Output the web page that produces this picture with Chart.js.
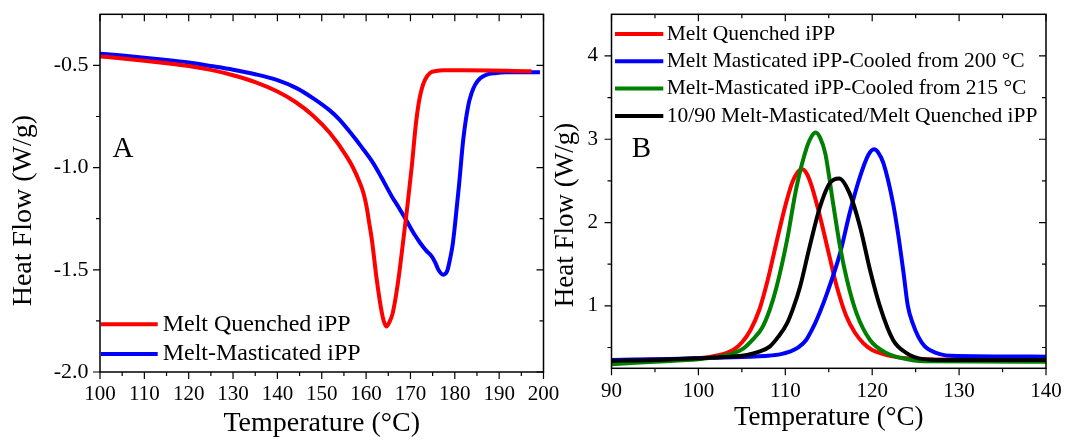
<!DOCTYPE html>
<html>
<head>
<meta charset="utf-8">
<script src="https://cdn.jsdelivr.net/npm/chart.js@4"></script>
<style>
  body { margin: 0; background: #fff; }
  #wrap { position: relative; width: 1065px; height: 440px; }
  .box { position: absolute; top: 0; height: 440px; }
</style>
</head>
<body>
<div id="wrap">
  <div class="box" style="left:0; width:570px;"><canvas id="chartA"></canvas></div>
  <div class="box" style="left:540px; width:525px;"><canvas id="chartB"></canvas></div>
</div>
<script>
// ---- Panel A: melting (heat flow, W/g) ----
const quenchT = [100, 105, 110, 115, 120, 125, 130, 135, 140, 144, 148, 151.8, 155.6, 157.1, 158.6, 159.4, 160.1, 160.7, 161.3, 162.4, 163.5, 164.0, 164.6, 165.2, 166.0, 167.2, 168.4, 169.3, 170.3, 171.25, 171.9, 172.5, 173.3, 174.4, 175.8, 177.4, 182, 188, 193, 197.3];
const quenchHF = [-0.456, -0.466, -0.477, -0.489, -0.503, -0.522, -0.548, -0.582, -0.628, -0.678, -0.745, -0.830, -0.945, -1.002, -1.075, -1.124, -1.190, -1.271, -1.353, -1.548, -1.705, -1.752, -1.777, -1.758, -1.712, -1.560, -1.353, -1.190, -0.994, -0.782, -0.680, -0.619, -0.570, -0.537, -0.527, -0.524, -0.524, -0.525, -0.527, -0.529];

const mastT = [100, 105, 110, 115, 120, 125, 130, 135, 140, 144.2, 148, 151.8, 154, 156.5, 159, 161.6, 163.5, 165.8, 167.5, 169.2, 171, 172.2, 173.5, 174.8, 175.6, 176.3, 177.4, 178.3, 178.9, 179.5, 180.0, 181.0, 181.9, 183.0, 183.8, 184.6, 185.8, 187.2, 189, 191.7, 195, 199.2];
const mastHF = [-0.443, -0.452, -0.462, -0.473, -0.486, -0.503, -0.521, -0.543, -0.572, -0.610, -0.660, -0.720, -0.765, -0.830, -0.900, -0.978, -1.050, -1.141, -1.200, -1.263, -1.330, -1.369, -1.405, -1.434, -1.465, -1.500, -1.524, -1.505, -1.450, -1.380, -1.288, -1.075, -0.864, -0.700, -0.635, -0.594, -0.562, -0.545, -0.538, -0.534, -0.534, -0.534];

const xTicksA = [100, 110, 120, 130, 140, 150, 160, 170, 180, 190, 200];
const yTicksA = [-2.0, -1.5, -1.0, -0.5];

// ---- Panel B: crystallization ----
const bQuenchT = [90, 95, 100, 102, 104, 105, 106, 107, 108, 109, 110, 110.8, 111.4, 111.9, 112.4, 113.0, 114.0, 115.0, 115.9, 117.0, 118.0, 119.0, 120.0, 121.0, 122.5, 124, 127, 140];
const bQuenchHF = [0.34, 0.355, 0.37, 0.40, 0.47, 0.56, 0.71, 0.95, 1.32, 1.77, 2.20, 2.48, 2.60, 2.64, 2.60, 2.45, 2.07, 1.63, 1.24, 0.88, 0.68, 0.55, 0.47, 0.43, 0.39, 0.37, 0.355, 0.35];

const b200T = [90, 95, 100, 106, 108, 109.5, 110.5, 111.5, 112.4, 113.2, 114.0, 114.8, 116.3, 117.4, 118.6, 119.55, 120.2, 120.7, 121.3, 122.4, 123.0, 123.6, 124.1, 124.7, 125.3, 126.0, 126.8, 127.8, 129, 140];
const b200HF = [0.35, 0.36, 0.37, 0.39, 0.40, 0.42, 0.45, 0.50, 0.59, 0.74, 0.93, 1.15, 1.63, 2.11, 2.55, 2.81, 2.88, 2.84, 2.71, 2.23, 1.85, 1.40, 1.00, 0.78, 0.63, 0.52, 0.46, 0.42, 0.40, 0.39];

const b215T = [90, 95, 100, 102.1, 104, 105.2, 106.3, 107.3, 108.2, 109.0, 110.2, 111.3, 112.5, 113.0, 113.5, 114.0, 114.6, 115.5, 116.3, 117.1, 118.2, 119.75, 121.7, 123.5, 126, 140];
const b215HF = [0.30, 0.33, 0.36, 0.385, 0.43, 0.49, 0.60, 0.73, 0.95, 1.23, 1.79, 2.43, 2.91, 3.03, 3.08, 3.02, 2.83, 2.23, 1.71, 1.31, 0.91, 0.59, 0.43, 0.37, 0.335, 0.33];

const bBlendT = [90, 95, 100, 103, 105.6, 107, 108.2, 109.2, 110.2, 110.9, 111.7, 112.8, 114.0, 115.1, 116.2, 117.4, 118.6, 119.75, 120.9, 122.4, 124.0, 125.9, 128, 140];
const bBlendHF = [0.34, 0.35, 0.37, 0.385, 0.41, 0.45, 0.51, 0.63, 0.79, 0.97, 1.23, 1.71, 2.19, 2.47, 2.53, 2.35, 1.95, 1.43, 0.99, 0.59, 0.43, 0.36, 0.35, 0.35];

const xTicksB = [90, 100, 110, 120, 130, 140];
const yTicksB = [1, 2, 3, 4];

Chart.defaults.font.family = "'Liberation Serif', 'Times New Roman', serif";
Chart.defaults.color = '#000';

function pts(xs, ys) {
  return xs.map((x, i) => ({ x: x, y: ys[i] }));
}

// frame box, in/out tick marks with minor ticks, panel letter
const frameTicks = {
  id: 'frameTicks',
  afterDraw(chart, args, opts) {
    const ctx = chart.ctx;
    const a = chart.chartArea;
    const sx = chart.scales.x, sy = chart.scales.y;
    ctx.save();
    ctx.strokeStyle = '#000';
    ctx.lineWidth = 1.2;

    const marks = (scale) => {
      const vals = scale.ticks.map(t => t.value);
      const step = vals[1] - vals[0];
      const out = vals.map(v => ({ v: v, len: 7 }));
      for (let v = vals[0] - step / 2; v <= scale.max + 1e-9; v += step) {
        if (v > scale.min + 1e-9 && v < scale.max - 1e-9) out.push({ v: v, len: 4 });
      }
      return out;
    };

    ctx.beginPath();
    marks(sx).forEach(m => {
      const p = sx.getPixelForValue(m.v);
      ctx.moveTo(p, a.bottom); ctx.lineTo(p, a.bottom + m.len);
      ctx.moveTo(p, a.top); ctx.lineTo(p, a.top + m.len);
    });
    marks(sy).forEach(m => {
      const p = sy.getPixelForValue(m.v);
      ctx.moveTo(a.left - m.len, p); ctx.lineTo(a.left, p);
      ctx.moveTo(a.right - m.len, p); ctx.lineTo(a.right, p);
    });
    ctx.stroke();

    ctx.lineWidth = 1.5;
    ctx.strokeRect(a.left, a.top, a.right - a.left, a.bottom - a.top);

    ctx.fillStyle = '#000';
    ctx.font = "29px 'Liberation Serif'";
    ctx.textBaseline = 'alphabetic';
    ctx.fillText(opts.letter, opts.lx, opts.ly);
    ctx.restore();
  }
};

// legend: short thick line + label, stacked
const lineLegend = {
  id: 'lineLegend',
  afterDraw(chart, args, o) {
    const ctx = chart.ctx;
    ctx.save();
    ctx.font = o.size + "px 'Liberation Serif'";
    ctx.textBaseline = 'middle';
    chart.data.datasets.forEach((ds, i) => {
      const y = o.y + i * o.gap;
      ctx.strokeStyle = ds.borderColor;
      ctx.lineWidth = 4;
      ctx.beginPath();
      ctx.moveTo(o.x, y);
      ctx.lineTo(o.x + o.len, y);
      ctx.stroke();
      ctx.fillStyle = '#000';
      ctx.fillText(ds.label, o.x + o.len + o.pad, y);
    });
    ctx.restore();
  }
};

function lineSet(label, color, data, order) {
  return {
    label: label, data: data, borderColor: color, backgroundColor: color,
    borderWidth: 4, pointRadius: 0, cubicInterpolationMode: 'monotone', order: order
  };
}

// fixed-size axis box; drop the label overhang so layout padding is exact
function fixBox(w, h) {
  return s => {
    if (w) s.width = w;
    if (h) s.height = h;
    s.paddingTop = s.paddingBottom = s.paddingLeft = s.paddingRight = 0;
  };
}

function axis(min, max, ticks, opts) {
  return {
    type: 'linear', min: min, max: max,
    afterBuildTicks: s => { s.ticks = ticks.map(v => ({ value: v })); },
    afterFit: opts.fit,
    grid: { display: false, drawTicks: false, tickLength: 0 },
    border: { display: false },
    ticks: { padding: opts.pad, font: { size: opts.fsize || 21 }, maxRotation: 0, autoSkip: false, callback: opts.fmt },
    title: { display: true, text: opts.title, font: { size: opts.tsize }, padding: opts.tpad }
  };
}

new Chart(document.getElementById('chartA'), {
  type: 'line',
  data: {
    datasets: [
      lineSet('Melt Quenched iPP', '#ff0000', pts(quenchT, quenchHF), 0),
      lineSet('Melt-Masticated iPP', '#0000ff', pts(mastT, mastHF), 1)
    ]
  },
  options: {
    responsive: true,
    maintainAspectRatio: false,
    animation: false,
    events: [],
    layout: { padding: { top: 14.3, right: 26.5, left: 0, bottom: 0 } },
    scales: {
      x: axis(100, 200, xTicksA, { fit: fixBox(0, 68), pad: 10, title: 'Temperature (°C)', tsize: 28, tpad: { top: 0, bottom: 0 } }),
      y: axis(-2.0, -0.25, yTicksA, { fit: fixBox(100, 0), pad: 11.5, fsize: 22, fmt: v => v.toFixed(1), title: 'Heat Flow (W/g)     ', tsize: 28, tpad: { top: 6.7, bottom: 0 } })
    },
    plugins: {
      legend: { display: false },
      tooltip: { enabled: false },
      frameTicks: { letter: 'A', lx: 112.5, ly: 157.3 },
      lineLegend: { x: 101, y: 324.3, gap: 29.7, len: 56.7, pad: 5, size: 24 }
    }
  },
  plugins: [frameTicks, lineLegend]
});

new Chart(document.getElementById('chartB'), {
  type: 'line',
  data: {
    datasets: [
      lineSet('Melt Quenched iPP', '#ff0000', pts(bQuenchT, bQuenchHF), 3),
      lineSet('Melt Masticated iPP-Cooled from 200 °C', '#0000ff', pts(b200T, b200HF), 2),
      lineSet('Melt-Masticated iPP-Cooled from 215 °C', '#008000', pts(b215T, b215HF), 1),
      lineSet('10/90 Melt-Masticated/Melt Quenched iPP', '#000000', pts(bBlendT, bBlendHF), 0)
    ]
  },
  options: {
    responsive: true,
    maintainAspectRatio: false,
    animation: false,
    events: [],
    layout: { padding: { top: 14.3, right: 19, left: 0, bottom: 0 } },
    scales: {
      x: axis(90, 140, xTicksB, { fit: fixBox(0, 71.7), pad: 11, title: 'Temperature (°C)', tsize: 27, tpad: { top: 0, bottom: 6 } }),
      y: axis(0.25, 4.5, yTicksB, { fit: fixBox(71.5, 0), pad: 13.5, title: 'Heat Flow (W/g)       ', tsize: 27, tpad: { top: 9.3, bottom: 0 } })
    },
    plugins: {
      legend: { display: false },
      tooltip: { enabled: false },
      frameTicks: { letter: 'B', lx: 91.7, ly: 157.3 },
      lineLegend: { x: 75, y: 34, gap: 27.3, len: 48.3, pad: 3.4, size: 21.5 }
    }
  },
  plugins: [frameTicks, lineLegend]
});
</script>
</body>
</html>
